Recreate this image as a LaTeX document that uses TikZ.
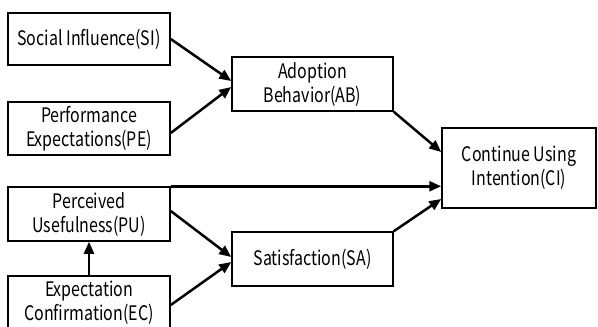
\documentclass[tikz,border=0pt]{standalone}
\usepackage{fontspec}
\setmainfont{Noto Sans CJK SC}[FakeStretch=0.8]
\usetikzlibrary{arrows.meta}
\begin{document}
\begin{tikzpicture}[x=1pt,y=-1pt,
  box/.style={draw,line width=1.5pt,inner sep=0pt,align=center,font=\fontsize{20}{24}\selectfont},
  arr/.style={line width=2.5pt,-{Triangle[length=12pt,width=10pt]}}]
\useasboundingbox (0,0) rectangle (598,327);
\fill[white] (0,0) rectangle (598,327);
\node[box,minimum width=162pt,minimum height=52pt] (si) at (89,39) {Social Influence(SI)};
\node[box,minimum width=162pt,minimum height=53pt] (pe) at (89,128.5) {Performance\\Expectations(PE)};
\node[box,minimum width=161pt,minimum height=54pt] (ab) at (312.5,84) {Adoption\\Behavior(AB)};
\node[box,minimum width=154pt,minimum height=80pt] (ci) at (519,168) {Continue Using\\Intention(CI)};
\node[box,minimum width=161pt,minimum height=54pt] (sa) at (312.5,259) {Satisfaction(SA)};
\node[box,minimum width=162pt,minimum height=54pt] (pu) at (89,214) {Perceived\\Usefulness(PU)};
\node[box,minimum width=162pt,minimum height=54pt] (ec) at (89,303) {Expectation\\Confirmation(EC)};
\draw[arr] (si.east) -- ([yshift=3pt]ab.west);
\draw[arr] ([yshift=-4.5pt]pe.east) -- ([yshift=-3pt]ab.west);
\draw[arr] (ab.south east) -- ([yshift=16pt]ci.west);
\draw[arr] (pu.north east) -- (pu.north east -| ci.west);
\draw[arr] (sa.north east) -- ([yshift=-31pt]ci.west);
\draw[arr] ([yshift=3pt]pu.east) -- ([yshift=2pt]sa.west);
\draw[arr] ([yshift=-2pt]ec.east) -- ([yshift=-3pt]sa.west);
\draw[arr] (ec.north) -- (pu.south);
\end{tikzpicture}
\end{document}
